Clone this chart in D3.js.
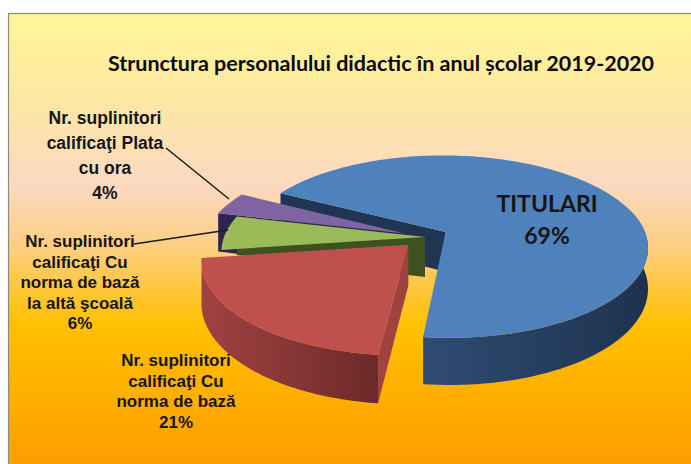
<!DOCTYPE html>
<html><head><meta charset="utf-8">
<script src="https://cdn.jsdelivr.net/npm/d3@7"></script>
<style>html,body{margin:0;padding:0;background:#fff}svg{display:block}</style></head>
<body><svg id="c" width="691" height="464"></svg>
<script>
// ---------- data ----------
const categories = ["TITULARI","Nr. suplinitori calificaţi Cu norma de bază","Nr. suplinitori calificaţi Cu norma de bază la altă şcoală","Nr. suplinitori calificaţi Plata cu ora"];
const values = [69,21,6,4];
const titleText = "Strunctura personalului didactic în anul școlar 2019-2020";
const labelLines = [
  ["TITULARI","69%"],
  ["Nr. suplinitori","calificaţi Cu","norma de bază","21%"],
  ["Nr. suplinitori","calificaţi Cu","norma de bază","la altă şcoală","6%"],
  ["Nr. suplinitori","calificaţi Plata","cu ora","4%"]
];
const topColors  = ["#4f81bd","#c0504d","#9bbb59","#8064a2"];
const wallColors = ["#1f3552","#a04340","#3f5120","#2e2352"];
const rimColors  = [["#2f4c73","#1e324e"],["#a04240","#6c2a2a"],["#5a7034","#46562a"],["#4a3a6a","#38294f"]];

// ---------- layout ----------
const cx=425, cy=237, R=201, K=0.45, F=1250, H=40;
const explode=[23.5,23.5,0,22];
const labelPos=[
  {x:547,y:212,dy:32,size:23,font:"Lato, Carlito, sans-serif"},
  {x:176,y:366,dy:20.5,size:17},
  {x:80,y:247,dy:20.5,size:17},
  {x:105,y:124,dy:25,size:17.5}
];
const svg=d3.select("#c");
const defs=svg.append("defs");
const bg=defs.append("linearGradient").attr("id","bg").attr("x1",0).attr("y1",0).attr("x2",0).attr("y2",1);
[[0,"#fff799"],[0.17,"#fee9a0"],[0.37,"#fcd9c2"],[0.5,"#fdcf85"],[0.68,"#ffc000"],[1,"#ff9b00"]]
  .forEach(d=>bg.append("stop").attr("offset",d[0]).attr("stop-color",d[1]));
svg.append("rect").attr("x",8.5).attr("y",13.5).attr("width",690).attr("height",460)
  .attr("fill","url(#bg)").attr("stroke","#8a8a80").attr("stroke-width",1.2);

const pie=d3.pie().sort(null).startAngle(-62*Math.PI/180).endAngle(298*Math.PI/180);
const arcs=pie(values);
const line=d3.line();
function P(X,Z,h){const s=F/(F-Z);return [cx+X*s, cy+Z*K*s+(h||0)*s];}
function apex(i){const a=(arcs[i].startAngle+arcs[i].endAngle)/2;return [explode[i]*Math.sin(a),-explode[i]*Math.cos(a)];}
function rimPt(i,a,h){const o=apex(i);return P(o[0]+R*Math.sin(a),o[1]-R*Math.cos(a),h);}
function samples(i){const n=Math.max(8,Math.ceil((arcs[i].endAngle-arcs[i].startAngle)*40));
  return d3.range(n+1).map(k=>arcs[i].startAngle+(arcs[i].endAngle-arcs[i].startAngle)*k/n);}
const g=svg.append("g");
function drawTop(i){const o=apex(i);
  g.append("path").attr("d",line([P(o[0],o[1],0),...samples(i).map(a=>rimPt(i,a,0))])+"Z").attr("fill",topColors[i]);}
function wall(i,a){const o=apex(i);
  g.append("path").attr("d",line([P(o[0],o[1],0),rimPt(i,a,0),rimPt(i,a,H),P(o[0],o[1],H)])+"Z").attr("fill",wallColors[i]);}
function rim(i,a0,a1){
  const n=60,as=d3.range(n+1).map(k=>a0+(a1-a0)*k/n);
  const pts=as.map(a=>rimPt(i,a,0));
  const ptsB=as.map(a=>rimPt(i,a,H)).reverse();
  const id="rim"+i;
  const xs=pts.map(p=>p[0]);
  const gr=defs.append("linearGradient").attr("id",id).attr("gradientUnits","userSpaceOnUse")
    .attr("x1",d3.min(xs)).attr("x2",d3.max(xs)).attr("y1",0).attr("y2",0);
  gr.append("stop").attr("offset",0).attr("stop-color",rimColors[i][0]);
  gr.append("stop").attr("offset",1).attr("stop-color",rimColors[i][1]);
  g.append("path").attr("d",line(pts.concat(ptsB))+"Z").attr("fill",`url(#${id})`);
}
// painter's order
wall(0,arcs[0].startAngle);
wall(3,arcs[3].startAngle); drawTop(3);
wall(2,arcs[2].endAngle); drawTop(2);
rim(1,arcs[1].startAngle,arcs[1].endAngle);
wall(1,arcs[1].startAngle); drawTop(1);
rim(0,Math.PI/2-0.25,arcs[0].endAngle); drawTop(0);

// leaders
const leaders=[[[166,148],[229,199]],[[134,244],[228,230]]];
leaders.forEach(l=>svg.append("path").attr("d",line(l)).attr("fill","none").attr("stroke","#1a1a1a").attr("stroke-width",1.5));

// text
svg.append("text").attr("x",381).attr("y",71).attr("text-anchor","middle")
  .attr("font-family","Lato, Carlito, sans-serif").attr("font-weight",700).attr("font-size",21.5).attr("fill","#0a0a0a").text(titleText);
labelLines.forEach((ls,i)=>{const p=labelPos[i];
  ls.forEach((t,k)=>svg.append("text").attr("x",p.x).attr("y",p.y+k*p.dy).attr("text-anchor","middle")
    .attr("font-family",p.font||"'Liberation Sans', Arial, sans-serif").attr("font-weight",700)
    .attr("font-size",p.size).attr("fill","#151515").text(t));
});
</script></body></html>
